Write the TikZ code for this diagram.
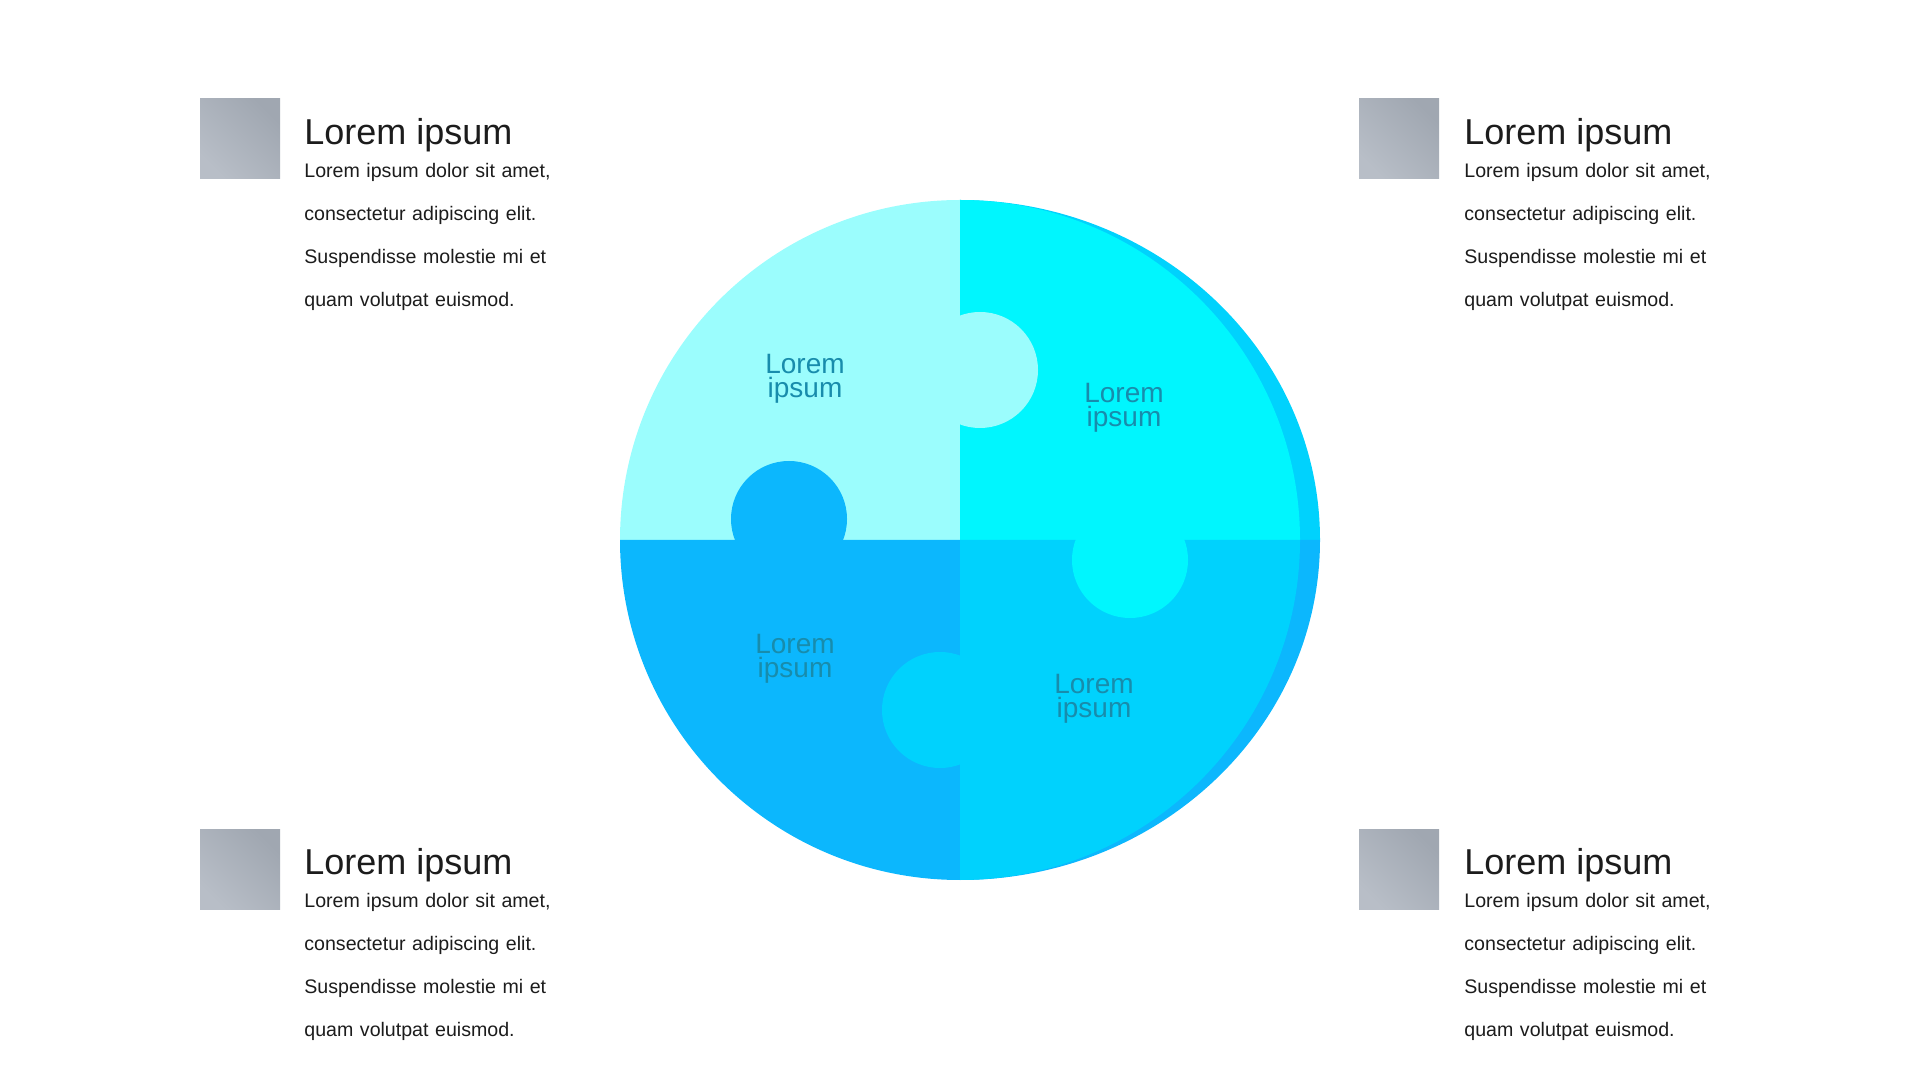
\documentclass[tikz,border=0pt]{standalone}
\usepackage{fontspec}
\setmainfont{Liberation Sans}
\usepackage{xcolor}
\usepackage{tikz}
\usetikzlibrary{positioning}

\definecolor{pieceTL}{RGB}{155,253,253}
\definecolor{pieceTR}{RGB}{0,246,254}
\definecolor{pieceBL}{RGB}{12,183,253}
\definecolor{pieceBR}{RGB}{0,210,253}
\definecolor{lblcol}{RGB}{24,140,172}
\definecolor{sqlight}{RGB}{184,190,199}
\definecolor{sqdark}{RGB}{160,167,177}
\definecolor{txtcol}{RGB}{28,28,28}

\begin{document}
\begin{tikzpicture}[x=1pt, y=1pt,
  marker/.style={minimum size=80pt, inner sep=0pt, bottom color=sqlight,
    top color=sqdark, shading angle=-45},
  heading/.style={anchor=base west, inner sep=0pt, text=txtcol,
    font=\fontsize{36}{43}\selectfont},
  blurb/.style={anchor=base west, inner sep=0pt, text=txtcol, text width=300pt,
    align=left, font=\fontsize{19.6}{43}\selectfont},
  piecelabel/.style={align=center, text=lblcol, inner sep=0pt,
    font=\fontsize{28}{24.5}\selectfont},
  knob/.style={radius=58}
]
  \useasboundingbox (0,0) rectangle (1920,1080);

  % Rim on the right half
  \fill[pieceBR] (960,540) -- (1320,540) arc[start angle=0, end angle=90, x radius=360, y radius=340] -- cycle;
  \fill[pieceBL] (960,540) -- (960,200) arc[start angle=-90, end angle=0, x radius=360, y radius=340] -- cycle;

  % Puzzle pieces
  \fill[pieceTL] (960,540) -- (620,540) arc[start angle=180, end angle=90, radius=340] -- cycle;
  \fill[pieceTR] (960,540) -- (1300,540) arc[start angle=0, end angle=90, radius=340] -- cycle;
  \fill[pieceBL] (960,540) -- (620,540) arc[start angle=180, end angle=270, radius=340] -- cycle;
  \fill[pieceBR] (960,540) -- (1300,540) arc[start angle=0, end angle=-90, radius=340] -- cycle;

  % Knobs
  \fill[pieceTL] (980,710) circle[knob];
  \fill[pieceBL] (789,561) circle[knob];
  \fill[pieceTR] (1130,520) circle[knob];
  \fill[pieceBR] (940,370) circle[knob];

  % Piece labels
  \node[piecelabel] (lblTL) at (805,701) {Lorem\\ipsum};
  \node[piecelabel] (lblTR) at (1124,672) {Lorem\\ipsum};
  \node[piecelabel] (lblBL) at (795,421) {Lorem\\ipsum};
  \node[piecelabel] (lblBR) at (1094,381) {Lorem\\ipsum};

  % Top left block
  \node[marker] (sqTL) at (240,941) {};
  \node[heading] (headTL) at ([xshift=24pt, yshift=-45.5pt]sqTL.north east) {Lorem ipsum};
  \node[blurb] (textTL) at ([yshift=-33pt]headTL.base west) {Lorem ipsum dolor sit amet,\\consectetur adipiscing elit.\\Suspendisse molestie mi et\\quam volutpat euismod.};

  % Top right block
  \node[marker] (sqTR) at (1399,941) {};
  \node[heading] (headTR) at ([xshift=25pt, yshift=-45.5pt]sqTR.north east) {Lorem ipsum};
  \node[blurb] (textTR) at ([yshift=-33pt]headTR.base west) {Lorem ipsum dolor sit amet,\\consectetur adipiscing elit.\\Suspendisse molestie mi et\\quam volutpat euismod.};

  % Bottom left block
  \node[marker] (sqBL) at (240,210.5) {};
  \node[heading] (headBL) at ([xshift=24pt, yshift=-45.5pt]sqBL.north east) {Lorem ipsum};
  \node[blurb] (textBL) at ([yshift=-33pt]headBL.base west) {Lorem ipsum dolor sit amet,\\consectetur adipiscing elit.\\Suspendisse molestie mi et\\quam volutpat euismod.};

  % Bottom right block
  \node[marker] (sqBR) at (1399,210.5) {};
  \node[heading] (headBR) at ([xshift=25pt, yshift=-45.5pt]sqBR.north east) {Lorem ipsum};
  \node[blurb] (textBR) at ([yshift=-33pt]headBR.base west) {Lorem ipsum dolor sit amet,\\consectetur adipiscing elit.\\Suspendisse molestie mi et\\quam volutpat euismod.};
\end{tikzpicture}
\end{document}
